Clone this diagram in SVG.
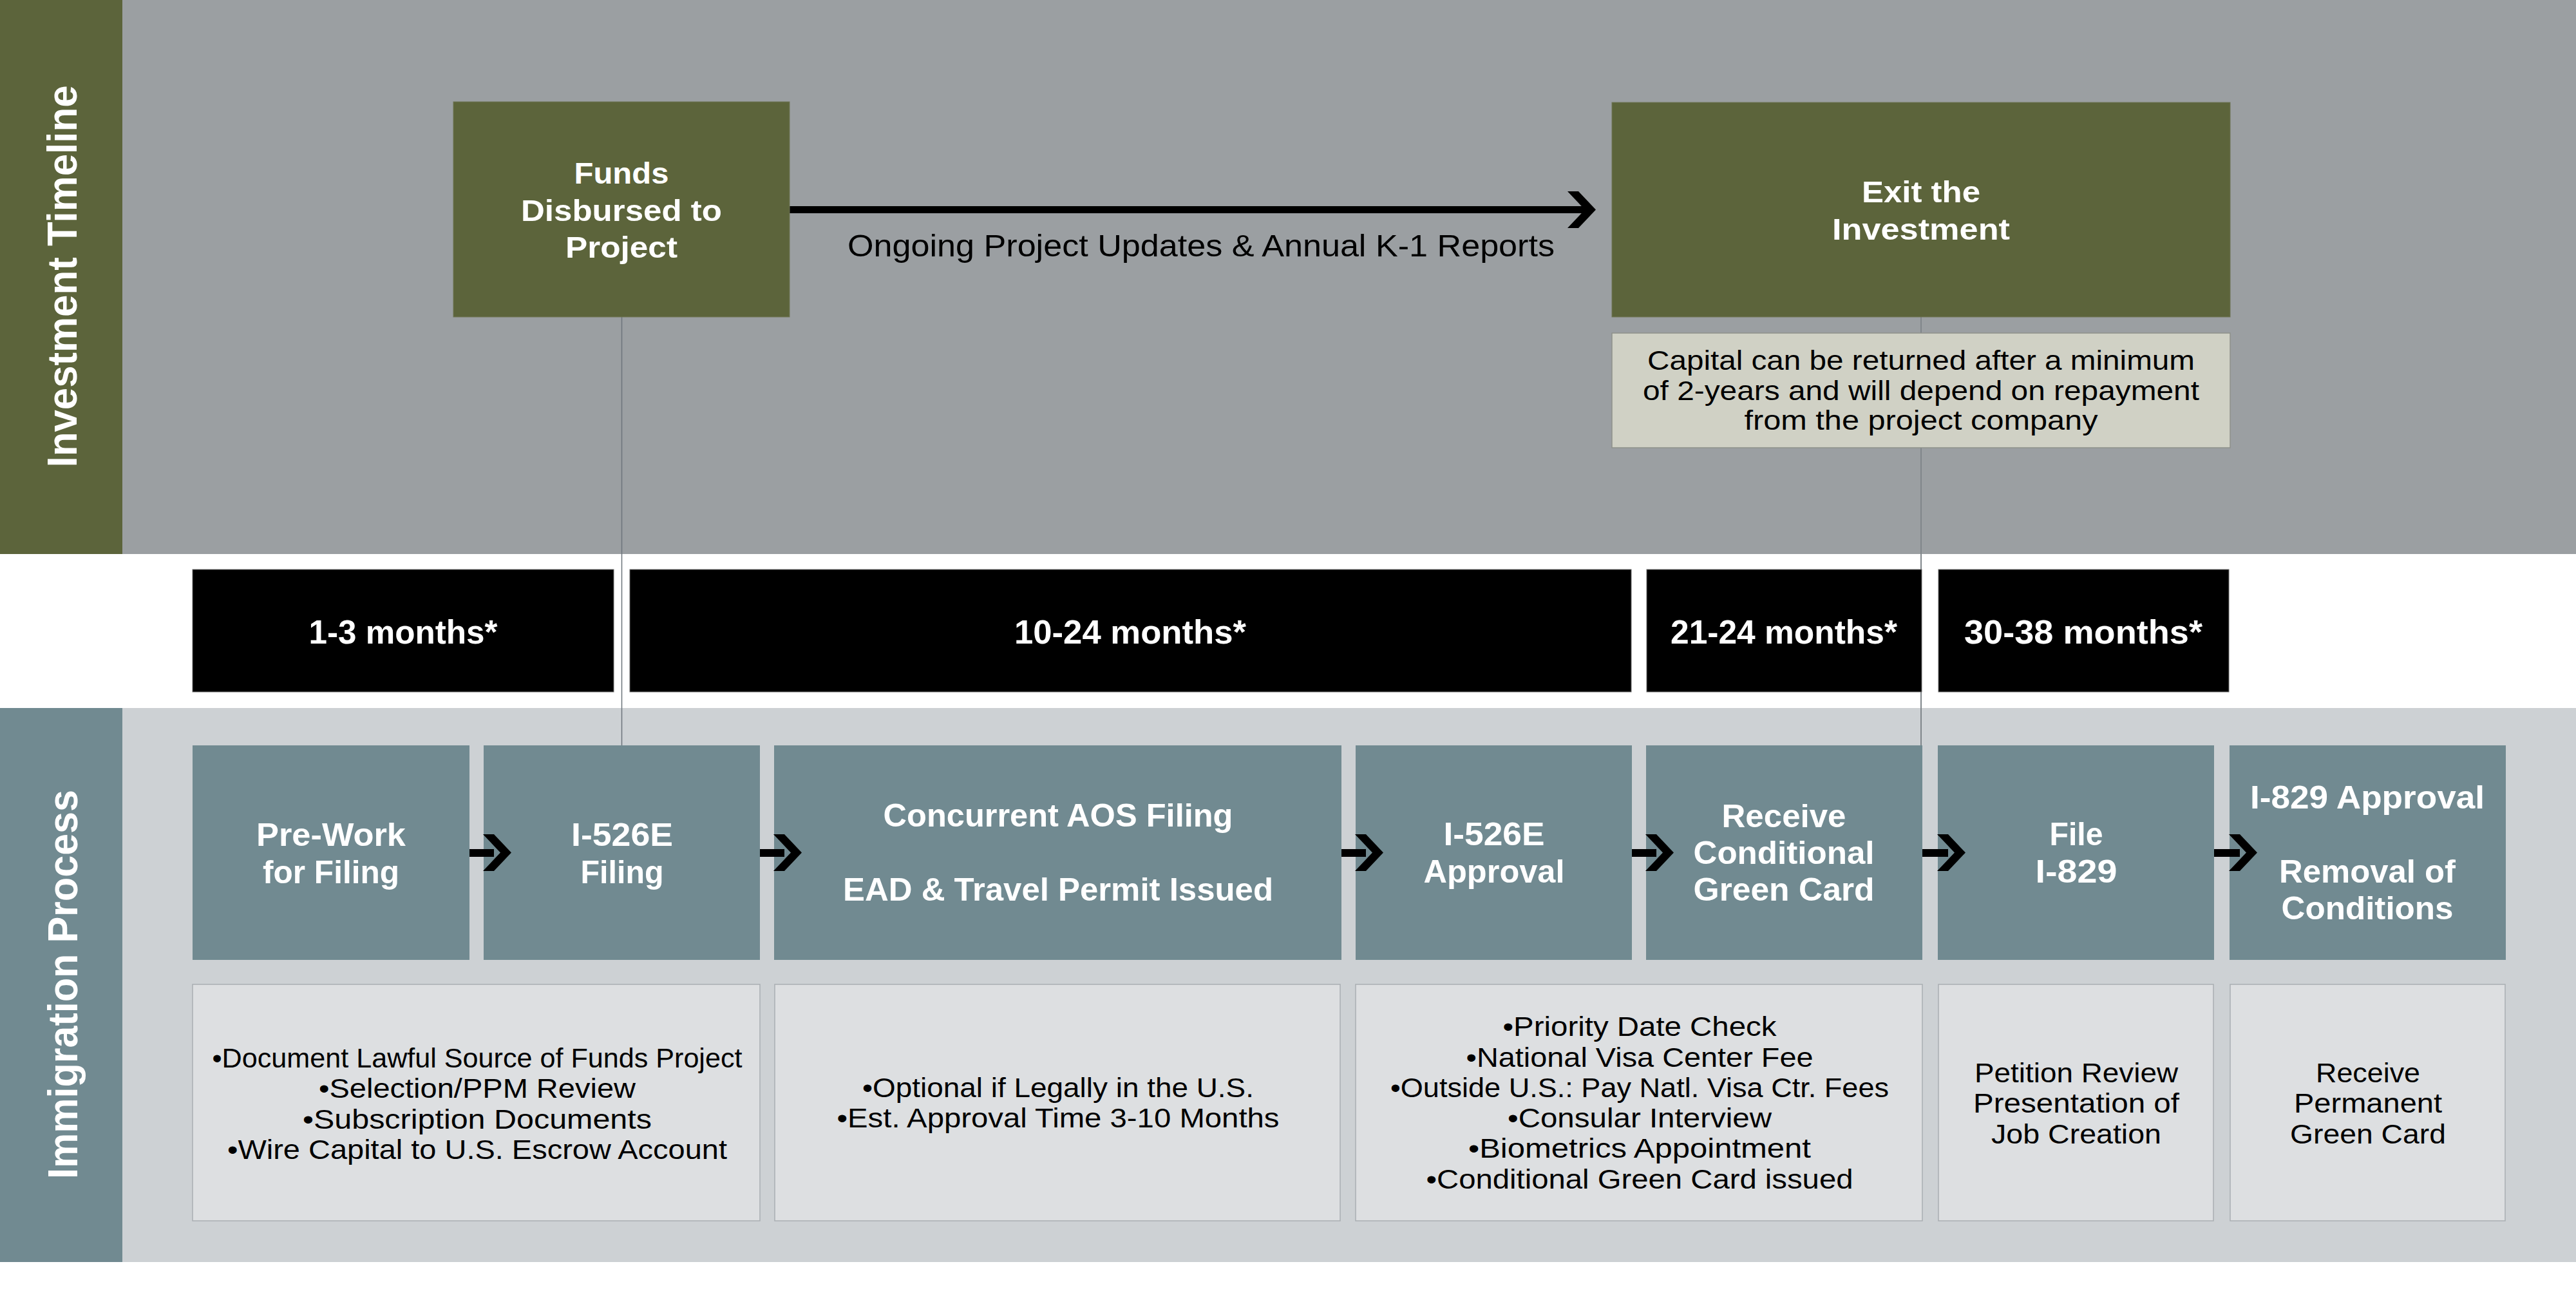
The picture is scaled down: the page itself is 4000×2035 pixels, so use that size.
<svg xmlns="http://www.w3.org/2000/svg" width="4000" height="2035" viewBox="0 0 4000 2035">
<style>
  text { font-family: "Liberation Sans", Arial, sans-serif; }
  .lbl { font-weight: bold; fill: #ffffff; text-anchor: middle; }
  .side { font-size: 64px; }
  .olive { font-size: 47px; }
  .proc { font-size: 50px; }
  .time { font-size: 52px; }
  .det { font-size: 42px; fill: #000000; text-anchor: middle; }
  .note { font-size: 42px; fill: #000000; text-anchor: middle; }
  .pbox { fill: #718a91; }
  .obox { fill: #5c643b; stroke: #6f7455; stroke-width: 1; }
  .tbox { fill: #000000; stroke: #6a6a6a; stroke-width: 1; }
  .dbox { fill: #dddfe1; stroke: #a9aeb2; stroke-width: 1.5; }
  .chev { fill: #000000; }
  .bar { fill: #000000; }
</style>

<!-- backgrounds -->
<rect x="0" y="0" width="4000" height="2035" fill="#ffffff"/>
<rect x="190" y="0" width="3810" height="860" fill="#9b9fa2"/>
<rect x="0" y="0" width="190" height="860" fill="#5c643b"/>
<rect x="190" y="1099" width="3810" height="860" fill="#cdd1d4"/>
<rect x="0" y="1099" width="190" height="860" fill="#718a91"/>

<g id="label-investment-timeline">
  <text class="lbl side" transform="translate(119,429) rotate(-90)" x="0" y="0" textLength="593" lengthAdjust="spacingAndGlyphs">Investment Timeline</text>
</g>
<g id="label-immigration-process">
  <text class="lbl side" transform="translate(120,1528) rotate(-90)" x="0" y="0" textLength="604" lengthAdjust="spacingAndGlyphs">Immigration Process</text>
</g>

<!-- connectors -->
<g id="connectors">
  <line x1="965.5" y1="492" x2="965.5" y2="1157" stroke="#6d757b" stroke-width="1.5"/>
  <line x1="2983" y1="492" x2="2983" y2="1157" stroke="#80868a" stroke-width="2"/>
  <rect class="bar" x="1226" y="320" width="1238" height="11"/>
  <polygon class="chev" points="2434,297 2451,297 2478,325.5 2451,354 2434,354 2461,325.5"/>
  <text x="1865" y="398" font-size="48" fill="#000000" text-anchor="middle" textLength="1098" lengthAdjust="spacingAndGlyphs">Ongoing Project Updates &amp; Annual K-1 Reports</text>
</g>

<g id="funds-disbursed">
  <rect class="obox" x="704" y="158" width="522" height="334"/>
  <text class="lbl olive" x="965" y="285" textLength="147" lengthAdjust="spacingAndGlyphs">Funds</text>
  <text class="lbl olive" x="965" y="343" textLength="312" lengthAdjust="spacingAndGlyphs">Disbursed to</text>
  <text class="lbl olive" x="965" y="400" textLength="174" lengthAdjust="spacingAndGlyphs">Project</text>
</g>

<g id="exit-investment">
  <rect class="obox" x="2503" y="159" width="960" height="333"/>
  <text class="lbl olive" x="2983" y="314" textLength="184" lengthAdjust="spacingAndGlyphs">Exit the</text>
  <text class="lbl olive" x="2983" y="372" textLength="276" lengthAdjust="spacingAndGlyphs">Investment</text>
</g>

<g id="exit-note">
  <rect x="2503" y="517" width="960" height="178" fill="#d0d1c5" stroke="#8e918a" stroke-width="1.5"/>
  <text class="note" x="2983" y="574" textLength="850" lengthAdjust="spacingAndGlyphs">Capital can be returned after a minimum</text>
  <text class="note" x="2983" y="621" textLength="864" lengthAdjust="spacingAndGlyphs">of 2-years and will depend on repayment</text>
  <text class="note" x="2983" y="667" textLength="549" lengthAdjust="spacingAndGlyphs">from the project company</text>
</g>

<!-- timeline durations -->
<g id="time-1-3">
  <rect class="tbox" x="299" y="884" width="654" height="190"/>
  <text class="lbl time" x="626" y="999" textLength="293" lengthAdjust="spacingAndGlyphs">1-3 months*</text>
</g>
<g id="time-10-24">
  <rect class="tbox" x="978" y="884" width="1555" height="190"/>
  <text class="lbl time" x="1755" y="999" textLength="360" lengthAdjust="spacingAndGlyphs">10-24 months*</text>
</g>
<g id="time-21-24">
  <rect class="tbox" x="2557" y="884" width="427" height="190"/>
  <text class="lbl time" x="2770" y="999" textLength="352" lengthAdjust="spacingAndGlyphs">21-24 months*</text>
</g>
<g id="time-30-38">
  <rect class="tbox" x="3010" y="884" width="451" height="190"/>
  <text class="lbl time" x="3235" y="999" textLength="370" lengthAdjust="spacingAndGlyphs">30-38 months*</text>
</g>

<!-- process steps -->
<g id="step-prework">
  <rect class="pbox" x="299" y="1157" width="430" height="333"/>
  <text class="lbl proc" x="514" y="1313" textLength="232" lengthAdjust="spacingAndGlyphs">Pre-Work</text>
  <text class="lbl proc" x="514" y="1371" textLength="212" lengthAdjust="spacingAndGlyphs">for Filing</text>
</g>
<g id="step-i526e-filing">
  <rect class="pbox" x="751" y="1157" width="429" height="333"/>
  <text class="lbl proc" x="966" y="1313" textLength="158" lengthAdjust="spacingAndGlyphs">I-526E</text>
  <text class="lbl proc" x="966" y="1371" textLength="129" lengthAdjust="spacingAndGlyphs">Filing</text>
</g>
<g id="step-concurrent-aos">
  <rect class="pbox" x="1202" y="1157" width="881" height="333"/>
  <text class="lbl proc" x="1643" y="1283" textLength="543" lengthAdjust="spacingAndGlyphs">Concurrent AOS Filing</text>
  <text class="lbl proc" x="1643" y="1398" textLength="668" lengthAdjust="spacingAndGlyphs">EAD &amp; Travel Permit Issued</text>
</g>
<g id="step-i526e-approval">
  <rect class="pbox" x="2105" y="1157" width="429" height="333"/>
  <text class="lbl proc" x="2320" y="1312" textLength="157" lengthAdjust="spacingAndGlyphs">I-526E</text>
  <text class="lbl proc" x="2320" y="1370" textLength="219" lengthAdjust="spacingAndGlyphs">Approval</text>
</g>
<g id="step-conditional-green-card">
  <rect class="pbox" x="2556" y="1157" width="429" height="333"/>
  <text class="lbl proc" x="2770" y="1284" textLength="193" lengthAdjust="spacingAndGlyphs">Receive</text>
  <text class="lbl proc" x="2770" y="1341" textLength="281" lengthAdjust="spacingAndGlyphs">Conditional</text>
  <text class="lbl proc" x="2770" y="1398" textLength="281" lengthAdjust="spacingAndGlyphs">Green Card</text>
</g>
<g id="step-file-i829">
  <rect class="pbox" x="3009" y="1157" width="429" height="333"/>
  <text class="lbl proc" x="3224" y="1312" textLength="83" lengthAdjust="spacingAndGlyphs">File</text>
  <text class="lbl proc" x="3224" y="1370" textLength="127" lengthAdjust="spacingAndGlyphs">I-829</text>
</g>
<g id="step-i829-approval">
  <rect class="pbox" x="3462" y="1157" width="429" height="333"/>
  <text class="lbl proc" x="3676" y="1255" textLength="364" lengthAdjust="spacingAndGlyphs">I-829 Approval</text>
  <text class="lbl proc" x="3676" y="1370" textLength="274" lengthAdjust="spacingAndGlyphs">Removal of</text>
  <text class="lbl proc" x="3676" y="1427" textLength="267" lengthAdjust="spacingAndGlyphs">Conditions</text>
</g>

<!-- process arrows -->
<g id="process-arrows">
  <rect class="bar" x="729" y="1318" width="38" height="12"/>
  <polygon class="chev" points="750,1295 767,1295 794,1323.5 767,1352 750,1352 777,1323.5"/>
  <rect class="bar" x="1180" y="1318" width="38" height="12"/>
  <polygon class="chev" points="1201,1295 1218,1295 1245,1323.5 1218,1352 1201,1352 1228,1323.5"/>
  <rect class="bar" x="2083" y="1318" width="38" height="12"/>
  <polygon class="chev" points="2104,1295 2121,1295 2148,1323.5 2121,1352 2104,1352 2131,1323.5"/>
  <rect class="bar" x="2534" y="1318" width="38" height="12"/>
  <polygon class="chev" points="2555,1295 2572,1295 2599,1323.5 2572,1352 2555,1352 2582,1323.5"/>
  <rect class="bar" x="2985" y="1318" width="40" height="12"/>
  <polygon class="chev" points="3008,1295 3025,1295 3052,1323.5 3025,1352 3008,1352 3035,1323.5"/>
  <rect class="bar" x="3438" y="1318" width="40" height="12"/>
  <polygon class="chev" points="3461,1295 3478,1295 3505,1323.5 3478,1352 3461,1352 3488,1323.5"/>
</g>

<!-- details -->
<g id="detail-prework-filing">
  <rect class="dbox" x="299" y="1528" width="881" height="367"/>
  <text class="det" x="741" y="1657" textLength="823" lengthAdjust="spacingAndGlyphs">•Document Lawful Source of Funds Project</text>
  <text class="det" x="741" y="1704" textLength="492" lengthAdjust="spacingAndGlyphs">•Selection/PPM Review</text>
  <text class="det" x="741" y="1752" textLength="542" lengthAdjust="spacingAndGlyphs">•Subscription Documents</text>
  <text class="det" x="741" y="1799" textLength="776" lengthAdjust="spacingAndGlyphs">•Wire Capital to U.S. Escrow Account</text>
</g>
<g id="detail-concurrent">
  <rect class="dbox" x="1203" y="1528" width="878" height="367"/>
  <text class="det" x="1643" y="1703" textLength="608" lengthAdjust="spacingAndGlyphs">•Optional if Legally in the U.S.</text>
  <text class="det" x="1643" y="1750" textLength="687" lengthAdjust="spacingAndGlyphs">•Est. Approval Time 3-10 Months</text>
</g>
<g id="detail-approval-green-card">
  <rect class="dbox" x="2105" y="1528" width="880" height="367"/>
  <text class="det" x="2546" y="1608" textLength="425" lengthAdjust="spacingAndGlyphs">•Priority Date Check</text>
  <text class="det" x="2546" y="1656" textLength="539" lengthAdjust="spacingAndGlyphs">•National Visa Center Fee</text>
  <text class="det" x="2546" y="1703" textLength="774" lengthAdjust="spacingAndGlyphs">•Outside U.S.: Pay Natl. Visa Ctr. Fees</text>
  <text class="det" x="2546" y="1750" textLength="410" lengthAdjust="spacingAndGlyphs">•Consular Interview</text>
  <text class="det" x="2546" y="1797" textLength="532" lengthAdjust="spacingAndGlyphs">•Biometrics Appointment</text>
  <text class="det" x="2546" y="1845" textLength="663" lengthAdjust="spacingAndGlyphs">•Conditional Green Card issued</text>
</g>
<g id="detail-file-i829">
  <rect class="dbox" x="3010" y="1528" width="427" height="367"/>
  <text class="det" x="3224" y="1680" textLength="316" lengthAdjust="spacingAndGlyphs">Petition Review</text>
  <text class="det" x="3224" y="1727" textLength="320" lengthAdjust="spacingAndGlyphs">Presentation of</text>
  <text class="det" x="3224" y="1775" textLength="264" lengthAdjust="spacingAndGlyphs">Job Creation</text>
</g>
<g id="detail-i829-approval">
  <rect class="dbox" x="3463" y="1528" width="427" height="367"/>
  <text class="det" x="3677" y="1680" textLength="162" lengthAdjust="spacingAndGlyphs">Receive</text>
  <text class="det" x="3677" y="1727" textLength="230" lengthAdjust="spacingAndGlyphs">Permanent</text>
  <text class="det" x="3677" y="1775" textLength="242" lengthAdjust="spacingAndGlyphs">Green Card</text>
</g>
</svg>
